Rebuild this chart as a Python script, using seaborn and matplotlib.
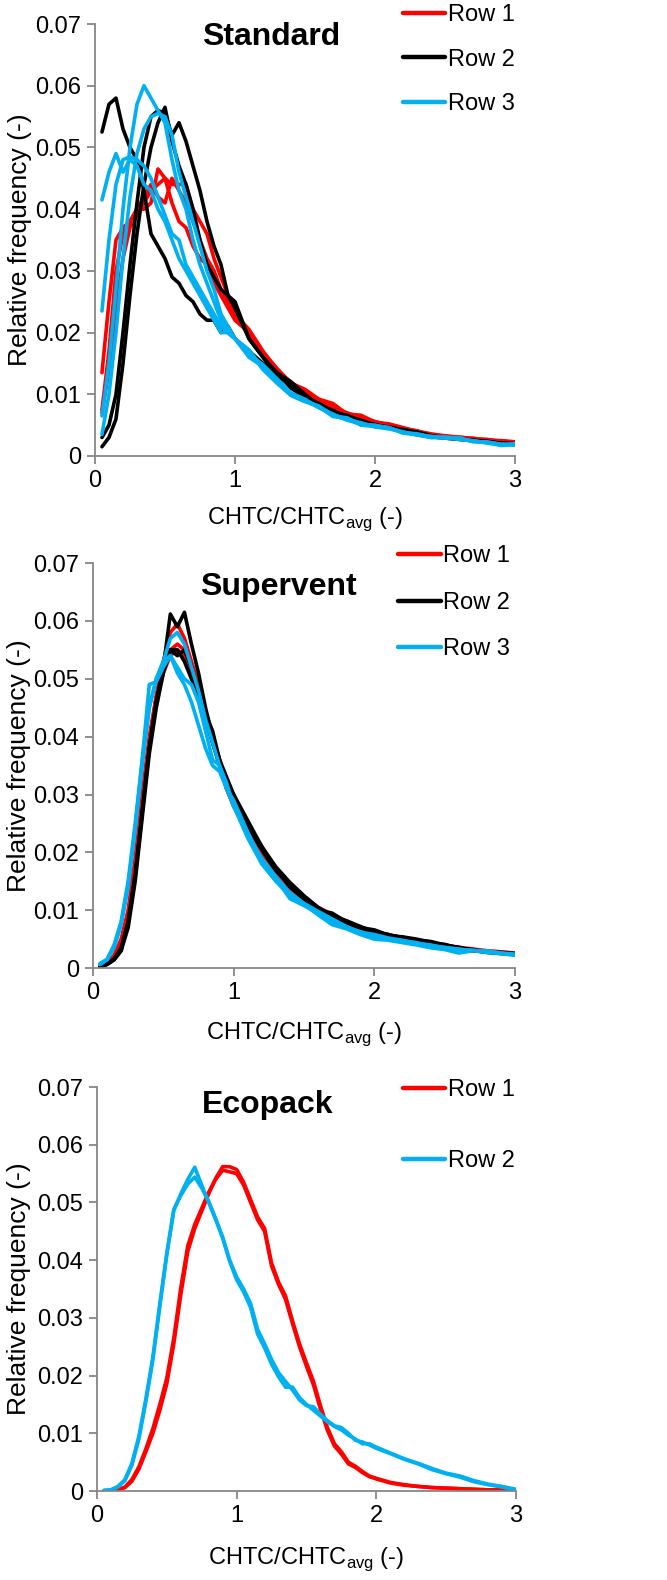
import pandas as pd
import numpy as np
import matplotlib
matplotlib.use("Agg")
import matplotlib.pyplot as plt
import matplotlib.ticker as mticker
import seaborn as sns

# x grids (CHTC/CHTC_avg)
x_std = [0.05, 0.1, 0.15, 0.2, 0.25, 0.3, 0.35, 0.4, 0.45, 0.5, 0.55, 0.6, 0.65, 0.7, 0.75, 0.8, 0.85, 0.9, 0.95, 1.0,
         1.1, 1.2, 1.3, 1.4, 1.5, 1.6, 1.7, 1.8, 1.9, 2.0, 2.1, 2.2, 2.3, 2.4, 2.5, 2.6, 2.7, 2.8, 2.9, 3.0]
x_eco = [0.05, 0.1, 0.15, 0.2, 0.25, 0.3, 0.35, 0.4, 0.45, 0.5, 0.55, 0.6, 0.65, 0.7, 0.75, 0.8, 0.85, 0.9, 0.95, 1.0,
         1.05, 1.1, 1.15, 1.2, 1.25, 1.3, 1.35, 1.4, 1.45, 1.5, 1.55, 1.6, 1.65, 1.7, 1.75, 1.8, 1.85, 1.9, 1.95, 2.0,
         2.1, 2.2, 2.3, 2.4, 2.5, 2.6, 2.7, 2.8, 2.9, 3.0]

# Standard
std_row1 = [
    [0.0135, 0.025, 0.035, 0.037, 0.038, 0.040, 0.040, 0.041, 0.0465, 0.045, 0.041, 0.038, 0.037, 0.034, 0.032, 0.031, 0.028, 0.026, 0.024, 0.022,
     0.020, 0.0168, 0.0142, 0.0118, 0.0108, 0.0092, 0.0085, 0.0068, 0.0066, 0.0055, 0.0052, 0.0046, 0.0040, 0.0036, 0.0032, 0.0031, 0.0028, 0.0027, 0.0024, 0.0022],
    [0.0075, 0.017, 0.030, 0.036, 0.038, 0.040, 0.042, 0.044, 0.042, 0.041, 0.045, 0.043, 0.041, 0.038, 0.035, 0.032, 0.030, 0.027, 0.025, 0.023,
     0.0195, 0.0162, 0.0138, 0.0120, 0.0102, 0.0090, 0.0078, 0.0070, 0.0062, 0.0056, 0.0049, 0.0044, 0.0041, 0.0034, 0.0033, 0.0029, 0.0029, 0.0025, 0.0025, 0.0023],
    [0.007, 0.014, 0.024, 0.032, 0.037, 0.039, 0.041, 0.043, 0.044, 0.045, 0.044, 0.044, 0.044, 0.040, 0.038, 0.036, 0.032, 0.029, 0.026, 0.023,
     0.0205, 0.0170, 0.0140, 0.0115, 0.0100, 0.0088, 0.0082, 0.0066, 0.0065, 0.0054, 0.0051, 0.0045, 0.0039, 0.0035, 0.0031, 0.0030, 0.0027, 0.0026, 0.0023, 0.0021],
]
std_row2 = [
    [0.0525, 0.057, 0.058, 0.053, 0.050, 0.048, 0.043, 0.036, 0.034, 0.032, 0.029, 0.028, 0.026, 0.025, 0.023, 0.022, 0.022, 0.020, 0.021, 0.019,
     0.017, 0.015, 0.0135, 0.011, 0.0095, 0.0085, 0.0072, 0.0065, 0.0058, 0.0050, 0.0047, 0.0042, 0.0037, 0.0031, 0.0029, 0.0028, 0.0025, 0.0023, 0.0021, 0.0020],
    [0.0015, 0.003, 0.006, 0.015, 0.026, 0.036, 0.044, 0.050, 0.054, 0.0565, 0.051, 0.047, 0.044, 0.040, 0.035, 0.031, 0.029, 0.027, 0.026, 0.024,
     0.019, 0.016, 0.013, 0.0115, 0.0095, 0.0085, 0.0070, 0.0066, 0.0055, 0.0051, 0.0045, 0.0043, 0.0038, 0.0032, 0.0030, 0.0027, 0.0025, 0.0024, 0.0020, 0.0019],
    [0.003, 0.005, 0.010, 0.020, 0.031, 0.041, 0.050, 0.055, 0.056, 0.0555, 0.052, 0.054, 0.051, 0.047, 0.043, 0.038, 0.034, 0.031, 0.026, 0.025,
     0.019, 0.016, 0.0135, 0.012, 0.0100, 0.0082, 0.0074, 0.0063, 0.0057, 0.0049, 0.0046, 0.0041, 0.0039, 0.0033, 0.0029, 0.0027, 0.0026, 0.0022, 0.0021, 0.0018],
]
std_row3 = [
    [0.0415, 0.046, 0.049, 0.046, 0.048, 0.047, 0.044, 0.043, 0.040, 0.038, 0.035, 0.032, 0.030, 0.028, 0.026, 0.024, 0.022, 0.020, 0.020, 0.019,
     0.016, 0.0145, 0.012, 0.0100, 0.0090, 0.0080, 0.0064, 0.0061, 0.0050, 0.0048, 0.0046, 0.0037, 0.0035, 0.0030, 0.0031, 0.0028, 0.0024, 0.0022, 0.0017, 0.0019],
    [0.0235, 0.035, 0.044, 0.048, 0.0485, 0.048, 0.047, 0.045, 0.042, 0.039, 0.036, 0.035, 0.031, 0.029, 0.027, 0.025, 0.023, 0.021, 0.020, 0.019,
     0.017, 0.014, 0.0118, 0.0098, 0.0088, 0.0081, 0.0066, 0.0059, 0.0054, 0.0047, 0.0044, 0.0039, 0.0034, 0.0032, 0.0029, 0.0030, 0.0023, 0.0023, 0.0019, 0.0018],
    [0.0065, 0.015, 0.027, 0.040, 0.050, 0.057, 0.060, 0.058, 0.056, 0.054, 0.048, 0.043, 0.040, 0.035, 0.031, 0.028, 0.025, 0.022, 0.020, 0.019,
     0.0165, 0.0148, 0.0125, 0.0102, 0.0092, 0.0078, 0.0068, 0.0058, 0.0052, 0.0049, 0.0046, 0.0038, 0.0036, 0.0031, 0.0029, 0.0027, 0.0025, 0.0021, 0.0018, 0.0020],
    [0.0035, 0.010, 0.020, 0.032, 0.042, 0.049, 0.053, 0.055, 0.0555, 0.055, 0.052, 0.046, 0.042, 0.038, 0.034, 0.030, 0.027, 0.023, 0.021, 0.019,
     0.0172, 0.0142, 0.0122, 0.0099, 0.0089, 0.0079, 0.0065, 0.0062, 0.0051, 0.0050, 0.0045, 0.0039, 0.0034, 0.0030, 0.0030, 0.0028, 0.0024, 0.0022, 0.0019, 0.0018],
]

# Supervent
sup_row1 = [
    [0.0003, 0.0008, 0.0018, 0.004, 0.009, 0.018, 0.029, 0.039, 0.047, 0.053, 0.058, 0.0595, 0.057, 0.053, 0.049, 0.044, 0.040, 0.035, 0.031, 0.028,
     0.0235, 0.0195, 0.0165, 0.0138, 0.0118, 0.0102, 0.0092, 0.0079, 0.0068, 0.0062, 0.0058, 0.0052, 0.0047, 0.0043, 0.0040, 0.0036, 0.0033, 0.0030, 0.0028, 0.0025],
    [0.0004, 0.001, 0.0022, 0.005, 0.010, 0.019, 0.030, 0.040, 0.047, 0.052, 0.055, 0.056, 0.055, 0.052, 0.048, 0.044, 0.040, 0.036, 0.031, 0.028,
     0.024, 0.0198, 0.0162, 0.0140, 0.0120, 0.0100, 0.0089, 0.0080, 0.0066, 0.0060, 0.0055, 0.0050, 0.0046, 0.0044, 0.0038, 0.0035, 0.0030, 0.0028, 0.0027, 0.0024],
    [0.0003, 0.0009, 0.002, 0.0045, 0.0095, 0.018, 0.029, 0.039, 0.046, 0.051, 0.054, 0.055, 0.054, 0.051, 0.047, 0.043, 0.039, 0.035, 0.032, 0.029,
     0.0245, 0.020, 0.0168, 0.0142, 0.0122, 0.0105, 0.0093, 0.0081, 0.0070, 0.0063, 0.0057, 0.0051, 0.0047, 0.0042, 0.0039, 0.0035, 0.0032, 0.0029, 0.0028, 0.0026],
]
sup_row2 = [
    [0.0002, 0.0007, 0.0015, 0.003, 0.008, 0.016, 0.027, 0.038, 0.046, 0.052, 0.0612, 0.059, 0.0615, 0.056, 0.051, 0.045, 0.040, 0.036, 0.032, 0.030,
     0.025, 0.021, 0.0172, 0.0140, 0.0120, 0.0103, 0.0092, 0.0078, 0.0070, 0.0066, 0.0057, 0.0053, 0.0048, 0.0046, 0.0040, 0.0035, 0.0031, 0.0027, 0.0025, 0.0024],
    [0.0002, 0.0006, 0.0014, 0.003, 0.007, 0.015, 0.026, 0.037, 0.045, 0.051, 0.055, 0.055, 0.053, 0.050, 0.047, 0.043, 0.039, 0.035, 0.031, 0.029,
     0.0245, 0.0205, 0.0168, 0.0145, 0.0118, 0.0100, 0.0095, 0.0080, 0.0068, 0.0064, 0.0056, 0.0054, 0.0050, 0.0045, 0.0039, 0.0036, 0.0030, 0.0028, 0.0026, 0.0023],
    [0.0002, 0.0007, 0.0016, 0.0035, 0.008, 0.016, 0.027, 0.038, 0.046, 0.052, 0.055, 0.054, 0.055, 0.052, 0.048, 0.044, 0.041, 0.036, 0.033, 0.030,
     0.0255, 0.021, 0.0175, 0.0148, 0.0125, 0.0105, 0.0090, 0.0082, 0.0072, 0.0062, 0.0058, 0.0052, 0.0049, 0.0043, 0.0041, 0.0034, 0.0032, 0.0028, 0.0027, 0.0025],
]
sup_row3 = [
    [0.0008, 0.0015, 0.004, 0.008, 0.015, 0.025, 0.036, 0.045, 0.050, 0.053, 0.057, 0.058, 0.056, 0.052, 0.048, 0.043, 0.039, 0.035, 0.031, 0.028,
     0.023, 0.019, 0.0158, 0.0130, 0.0112, 0.0098, 0.0085, 0.0072, 0.0062, 0.0058, 0.0052, 0.0048, 0.0043, 0.0040, 0.0035, 0.0033, 0.0030, 0.0030, 0.0026, 0.0024],
    [0.0006, 0.0015, 0.0035, 0.0075, 0.014, 0.024, 0.036, 0.049, 0.0495, 0.052, 0.054, 0.052, 0.050, 0.049, 0.046, 0.041, 0.036, 0.035, 0.032, 0.028,
     0.0225, 0.018, 0.0150, 0.0125, 0.0110, 0.0092, 0.0075, 0.0068, 0.0058, 0.0050, 0.0048, 0.0044, 0.0040, 0.0035, 0.0032, 0.0026, 0.0030, 0.0027, 0.0025, 0.0022],
    [0.0007, 0.0014, 0.0038, 0.0078, 0.0145, 0.024, 0.035, 0.045, 0.050, 0.053, 0.054, 0.051, 0.049, 0.046, 0.042, 0.038, 0.035, 0.034, 0.031, 0.029,
     0.0235, 0.0185, 0.0155, 0.0120, 0.0108, 0.0095, 0.0080, 0.0070, 0.0063, 0.0055, 0.0050, 0.0047, 0.0044, 0.0038, 0.0036, 0.0032, 0.0031, 0.0028, 0.0026, 0.0023],
]

# Ecopack
eco_row1 = [
    [0.0, 0.0, 0.0002, 0.0006, 0.0017, 0.0038, 0.0068, 0.0100, 0.0140, 0.0186, 0.0255, 0.034, 0.0415, 0.0455, 0.0485, 0.0515, 0.0542, 0.0562, 0.0562, 0.0557,
     0.0535, 0.0505, 0.0475, 0.0455, 0.0395, 0.0362, 0.0338, 0.0295, 0.0255, 0.0222, 0.0190, 0.0148, 0.0110, 0.0082, 0.0068, 0.0050, 0.0043, 0.0034, 0.0026, 0.0022,
     0.0015, 0.0011, 0.0008, 0.0006, 0.0005, 0.0004, 0.0003, 0.0002, 0.0002, 0.0001],
    [0.0, 0.0, 0.0002, 0.0007, 0.002, 0.0042, 0.0073, 0.0108, 0.0150, 0.0196, 0.0265, 0.0352, 0.0425, 0.0462, 0.0490, 0.0518, 0.0540, 0.0556, 0.0553, 0.0550,
     0.0530, 0.0500, 0.0470, 0.0450, 0.0390, 0.0358, 0.0332, 0.0290, 0.0250, 0.0216, 0.0184, 0.0142, 0.0105, 0.0078, 0.0064, 0.0047, 0.0041, 0.0032, 0.0025, 0.0021,
     0.0014, 0.0010, 0.0008, 0.0006, 0.0005, 0.0004, 0.0003, 0.0002, 0.0002, 0.0001],
]
eco_row2 = [
    [0.0001, 0.0002, 0.0007, 0.0018, 0.0045, 0.0090, 0.0155, 0.0227, 0.0320, 0.0410, 0.0486, 0.0515, 0.0540, 0.0561, 0.0530, 0.0500, 0.0470, 0.0440, 0.0400, 0.0371,
     0.0350, 0.0325, 0.0280, 0.0255, 0.0228, 0.0205, 0.0190, 0.0175, 0.0158, 0.0148, 0.0146, 0.0133, 0.0122, 0.0113, 0.0110, 0.0100, 0.0088, 0.0085, 0.0080, 0.0074,
     0.0065, 0.0055, 0.0047, 0.0037, 0.0030, 0.0024, 0.0016, 0.0011, 0.0007, 0.0002],
    [0.0001, 0.0002, 0.0008, 0.0020, 0.0048, 0.0095, 0.0160, 0.0232, 0.0325, 0.0412, 0.0488, 0.0512, 0.0532, 0.0544, 0.0525, 0.0502, 0.0472, 0.0438, 0.0398, 0.0366,
     0.0345, 0.0318, 0.0272, 0.0248, 0.0220, 0.0198, 0.0180, 0.0180, 0.0162, 0.0150, 0.0140, 0.0130, 0.0120, 0.0112, 0.0106, 0.0097, 0.0090, 0.0082, 0.0082, 0.0076,
     0.0066, 0.0056, 0.0048, 0.0039, 0.0031, 0.0026, 0.0018, 0.0012, 0.0008, 0.0003],
]

RED, BLACK, BLUE = "#FF0000", "#000000", "#00B0F0"
GREY = "#868686"


def long_frame(x, rows):
    recs = []
    for row_name, curves in rows.items():
        for ci, curve in enumerate(curves):
            for xv, yv in zip(x, curve):
                recs.append((xv, yv, row_name, f"{row_name}-{ci}"))
    return pd.DataFrame(recs, columns=["x", "y", "row", "curve"])


sns.set_style("white")
plt.rcParams["font.family"] = ["Liberation Sans", "DejaVu Sans"]
plt.rcParams["mathtext.fontset"] = "custom"
plt.rcParams["mathtext.rm"] = "Liberation Sans"
plt.rcParams["text.color"] = "black"
plt.rcParams["axes.labelcolor"] = "black"
plt.rcParams["xtick.labelcolor"] = "black"
plt.rcParams["ytick.labelcolor"] = "black"

fig = plt.figure(figsize=(6.67, 15.8), dpi=100)

panels = [
    ("Standard", x_std, {"Row 1": std_row1, "Row 2": std_row2, "Row 3": std_row3},
     [RED, BLACK, BLUE], [0.1424, 0.7114, 0.6297, 0.2734], (0.419, 0.97), (0.733, 1.046), 0.95, -0.15, -0.113),
    ("Supervent", x_std, {"Row 1": sup_row1, "Row 2": sup_row2, "Row 3": sup_row3},
     [RED, BLACK, BLUE], [0.1394, 0.3873, 0.6327, 0.2563], (0.44, 0.94), (0.723, 1.044), 1.04, -0.147, -0.128),
    ("Ecopack", x_eco, {"Row 1": eco_row1, "Row 2": eco_row2},
     [RED, BLUE], [0.1454, 0.0563, 0.6282, 0.2557], (0.408, 0.955), (0.730, 1.019), 2.05, -0.158, -0.134),
]

for title, x, rows, pal, rect, tpos, lpos, lspace, ylab_x, xlab_y in panels:
    ax = fig.add_axes(rect)
    df = long_frame(x, rows)
    sns.lineplot(data=df, x="x", y="y", hue="row", units="curve", estimator=None,
                 palette=pal, linewidth=2.6, sort=False, ax=ax)
    ax.set_xlim(0, 3)
    ax.set_ylim(0, 0.07)
    ax.set_xticks([0, 1, 2, 3])
    ax.set_yticks(np.arange(0, 0.0701, 0.01))
    ax.yaxis.set_major_formatter(mticker.FuncFormatter(lambda v, p: "0" if abs(v) < 1e-9 else f"{v:.2f}"))
    for s in ["top", "right"]:
        ax.spines[s].set_visible(False)
    for s in ["left", "bottom"]:
        ax.spines[s].set_color(GREY)
        ax.spines[s].set_linewidth(1.3)
    ax.tick_params(axis="both", direction="out", length=6, width=1.3, color=GREY,
                   labelsize=17, pad=4, bottom=True, left=True)
    ax.set_ylabel("Relative frequency (-)", fontsize=19)
    ax.yaxis.set_label_coords(ylab_x, 0.5)
    ax.set_xlabel("CHTC/CHTC$_{\\mathregular{avg}}$ (-)", fontsize=17)
    ax.xaxis.set_label_coords(0.5, xlab_y)
    ax.text(tpos[0], tpos[1], title, transform=ax.transAxes, ha="center", va="center",
            fontsize=23, fontweight="bold")
    sns.move_legend(ax, "upper left", bbox_to_anchor=lpos, frameon=False, title=None,
                    fontsize=17, labelspacing=lspace, handlelength=1.8, handletextpad=0.1,
                    borderpad=0, borderaxespad=0)
    for ln in ax.get_legend().get_lines():
        ln.set_linewidth(3.2)

fig.savefig("out.png", dpi=100)
